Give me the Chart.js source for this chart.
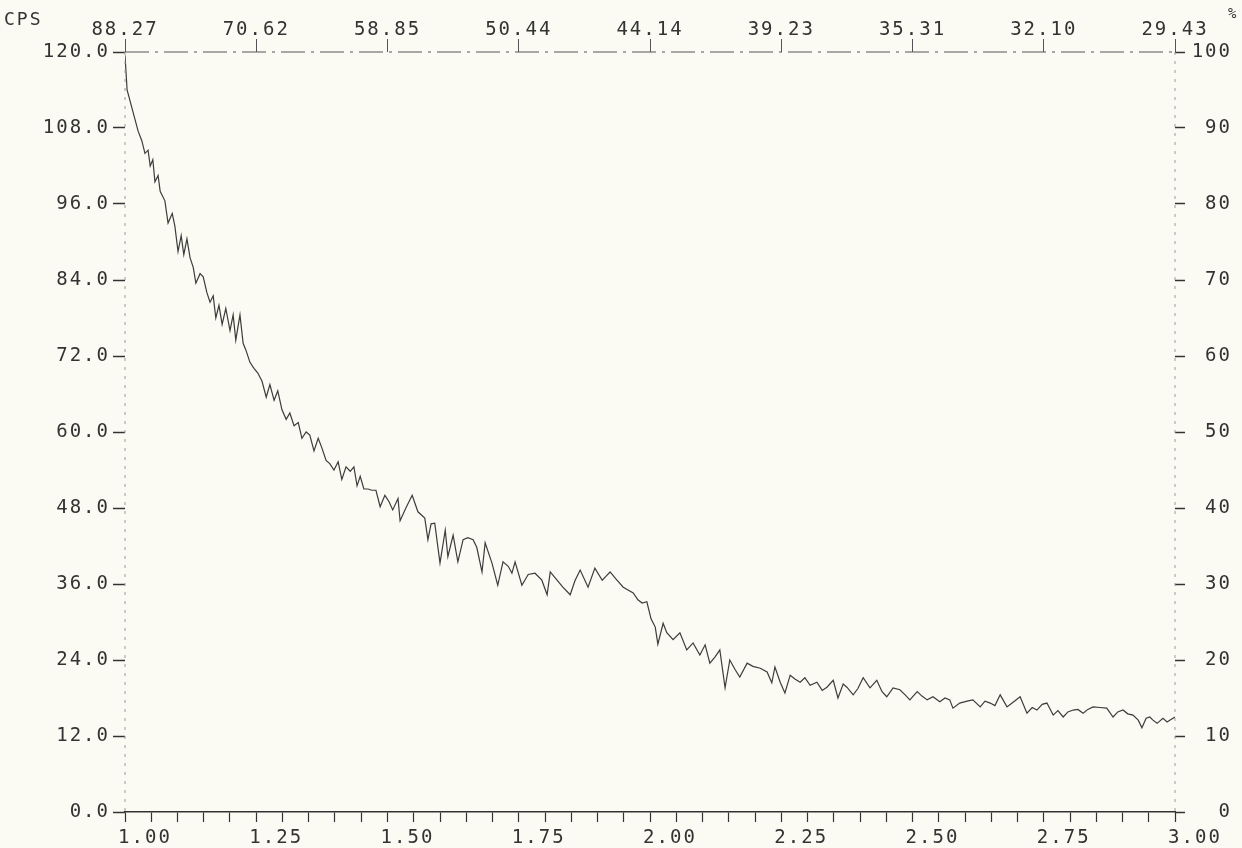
<!DOCTYPE html>
<html>
<head>
<meta charset="utf-8">
<script src="https://cdn.jsdelivr.net/npm/chart.js@4.4.1/dist/chart.umd.min.js"></script>
<style>
    html, body { margin: 0; padding: 0; background: #fbfbf4; }
    #wrap { width: 1242px; height: 848px; }
</style>
</head>
<body>
<div id="wrap"><canvas id="xrdChart" width="1242" height="848"></canvas></div>
<script>
// 2-theta positions (deg) and counts per second
const twoTheta = [
    1.000, 1.004, 1.025, 1.032, 1.038, 1.044, 1.048, 1.053, 1.057, 1.063,
    1.067, 1.076, 1.082, 1.090, 1.095, 1.101, 1.107, 1.112, 1.118, 1.124,
    1.130, 1.135, 1.143, 1.149, 1.156, 1.162, 1.168, 1.173, 1.179, 1.185,
    1.192, 1.200, 1.206, 1.211, 1.219, 1.225, 1.230, 1.238, 1.246, 1.253,
    1.261, 1.269, 1.276, 1.284, 1.291, 1.299, 1.307, 1.314, 1.322, 1.330,
    1.337, 1.345, 1.352, 1.360, 1.368, 1.375, 1.383, 1.390, 1.398, 1.406,
    1.413, 1.421, 1.429, 1.436, 1.442, 1.448, 1.455, 1.463, 1.470, 1.478,
    1.486, 1.495, 1.503, 1.510, 1.520, 1.524, 1.535, 1.547, 1.558, 1.571,
    1.577, 1.583, 1.590, 1.600, 1.610, 1.615, 1.625, 1.634, 1.644, 1.653,
    1.663, 1.670, 1.680, 1.686, 1.699, 1.710, 1.720, 1.730, 1.737, 1.743,
    1.756, 1.768, 1.781, 1.794, 1.804, 1.810, 1.823, 1.834, 1.848, 1.857,
    1.867, 1.882, 1.895, 1.909, 1.916, 1.924, 1.935, 1.949, 1.968, 1.977,
    1.985, 1.994, 2.002, 2.010, 2.015, 2.025, 2.032, 2.044, 2.057, 2.070,
    2.082, 2.095, 2.105, 2.114, 2.124, 2.133, 2.143, 2.152, 2.162, 2.171,
    2.185, 2.196, 2.210, 2.223, 2.232, 2.238, 2.248, 2.257, 2.267, 2.276,
    2.286, 2.295, 2.305, 2.318, 2.328, 2.337, 2.349, 2.358, 2.368, 2.375,
    2.387, 2.396, 2.406, 2.419, 2.432, 2.442, 2.451, 2.463, 2.476, 2.486,
    2.495, 2.509, 2.518, 2.528, 2.539, 2.552, 2.562, 2.571, 2.577, 2.590,
    2.604, 2.615, 2.629, 2.638, 2.648, 2.657, 2.667, 2.680, 2.691, 2.705,
    2.718, 2.728, 2.737, 2.747, 2.756, 2.768, 2.777, 2.787, 2.796, 2.806,
    2.815, 2.825, 2.834, 2.844, 2.857, 2.870, 2.882, 2.891, 2.901, 2.910,
    2.920, 2.930, 2.937, 2.945, 2.952, 2.958, 2.966, 2.977, 2.985, 2.990,
    3.000
];
const cps = [
    119.5, 114.0, 107.5, 106.0, 104.0, 104.5, 102.0, 103.0, 99.5, 100.5,
    98.0, 96.5, 93.0, 94.5, 92.5, 88.5, 91.0, 88.0, 90.5, 87.5,
    86.0, 83.5, 85.0, 84.5, 82.0, 80.5, 81.5, 78.0, 80.0, 77.0,
    79.5, 76.0, 78.5, 74.5, 78.5, 74.0, 73.0, 71.0, 70.0, 69.3,
    68.0, 65.5, 67.5, 65.0, 66.5, 63.5, 62.0, 63.0, 61.0, 61.5,
    59.0, 60.0, 59.5, 57.0, 59.0, 57.5, 55.5, 55.0, 54.0, 55.3,
    52.5, 54.5, 53.8, 54.5, 51.5, 53.0, 51.0, 51.0, 50.8, 50.8,
    48.2, 50.0, 49.0, 47.7, 49.5, 46.0, 48.0, 50.0, 47.4, 46.4,
    43.0, 45.5, 45.6, 39.3, 44.5, 40.3, 43.7, 39.5, 43.0, 43.3,
    43.0, 41.8, 37.9, 42.5, 39.3, 35.8, 39.5, 38.8, 37.7, 39.5,
    35.8, 37.5, 37.7, 36.6, 34.3, 37.9, 36.6, 35.5, 34.3, 36.5,
    38.2, 35.5, 38.5, 36.6, 37.2, 37.9, 36.8, 35.5, 34.6, 33.5,
    33.0, 33.2, 30.5, 29.2, 26.5, 29.8, 28.3, 27.2, 28.3, 25.6,
    26.7, 24.8, 26.4, 23.5, 24.5, 25.6, 19.6, 24.0, 22.5, 21.3,
    23.5, 23.0, 22.7, 22.1, 20.4, 22.9, 20.5, 18.8, 21.6, 21.0,
    20.5, 21.2, 20.0, 20.5, 19.2, 19.7, 20.8, 18.0, 20.2, 19.7,
    18.5, 19.5, 21.2, 19.6, 20.8, 19.0, 18.2, 19.6, 19.3, 18.5,
    17.7, 19.0, 18.3, 17.7, 18.2, 17.4, 18.0, 17.7, 16.4, 17.2,
    17.5, 17.7, 16.6, 17.5, 17.2, 16.8, 18.5, 16.6, 17.3, 18.2,
    15.6, 16.5, 16.1, 17.0, 17.2, 15.3, 16.0, 15.0, 15.8, 16.1,
    16.2, 15.6, 16.2, 16.6, 16.5, 16.4, 15.0, 15.8, 16.1, 15.5,
    15.3, 14.5, 13.3, 14.8, 15.0, 14.5, 14.0, 14.8, 14.2, 14.5,
    15.0
];

// axis labels
const bottomLabels = ['1.00', '1.25', '1.50', '1.75', '2.00', '2.25', '2.50', '2.75', '3.00'];
const topLabels = ['88.27', '70.62', '58.85', '50.44', '44.14', '39.23', '35.31', '32.10', '29.43'];
const cpsMax = 120;
const cpsStep = 12;
const percentMax = 100;
const percentStep = 10;

const inkColor = '#333333';
const tickFont = { family: 'DejaVu Sans Mono', size: 19 };

// plotter-like wide lettering, the dashed frame lines and the corner captions
const plotterText = {
    id: 'plotterText',
    beforeDraw(chart) {
        chart.ctx.letterSpacing = '2px';
    },
    afterDraw(chart) {
        const ctx = chart.ctx;
        const a = chart.chartArea;
        ctx.save();
        ctx.lineWidth = 1.2;

        // top frame: dash-dot
        ctx.strokeStyle = '#555555';
        ctx.setLineDash([24, 6, 3, 6]);
        ctx.beginPath();
        ctx.moveTo(a.left, a.top);
        ctx.lineTo(a.right, a.top);
        ctx.stroke();

        // left and right frames: light dotted
        ctx.strokeStyle = '#9a9a9a';
        ctx.lineWidth = 1;
        ctx.setLineDash([3, 6]);
        ctx.beginPath();
        ctx.moveTo(a.left, a.top);
        ctx.lineTo(a.left, a.bottom);
        ctx.moveTo(a.right, a.top);
        ctx.lineTo(a.right, a.bottom);
        ctx.stroke();
        ctx.setLineDash([]);

        ctx.fillStyle = inkColor;
        ctx.textBaseline = 'middle';
        ctx.textAlign = 'left';
        ctx.font = '18px "DejaVu Sans Mono"';
        ctx.fillText('CPS', 4, 20);
        ctx.font = '14px "DejaVu Sans Mono"';
        ctx.fillText('%', 1228, 14);
        ctx.restore();
    }
};

const points = twoTheta.map((t, i) => ({ x: t, y: cps[i] }));

new Chart(document.getElementById('xrdChart'), {
    type: 'line',
    data: {
        datasets: [{
            label: 'CPS',
            data: points,
            xAxisID: 'x',
            yAxisID: 'y',
            borderColor: '#3c3c3c',
            borderWidth: 1.2,
            pointRadius: 0,
            tension: 0
        }]
    },
    options: {
        responsive: false,
        animation: false,
        layout: { padding: { top: 0, left: 0, right: 10, bottom: 0 } },
        plugins: {
            legend: { display: false },
            tooltip: { enabled: false }
        },
        scales: {
            x: {
                type: 'linear',
                position: 'bottom',
                min: 1,
                max: 3,
                afterFit: s => { s.height = 36; },
                border: { color: inkColor, width: 1.5 },
                grid: { drawOnChartArea: false, tickLength: 10, color: inkColor, tickWidth: 1.2 },
                ticks: {
                    stepSize: 0.05,
                    autoSkip: false,
                    maxTicksLimit: 100,
                    maxRotation: 0,
                    labelOffset: 20,
                    padding: 5,
                    color: inkColor,
                    font: tickFont,
                    callback: value => {
                        const v = Math.round(value * 100) - 100;
                        return v % 25 === 0 ? bottomLabels[v / 25] : '';
                    }
                }
            },
            x2: {
                type: 'linear',
                position: 'top',
                min: 1,
                max: 3,
                afterFit: s => { s.height = 52; },
                border: { display: false },
                grid: { drawOnChartArea: false, tickLength: 13, color: '#555555' },
                ticks: {
                    stepSize: 0.25,
                    autoSkip: false,
                    maxRotation: 0,
                    padding: -2,
                    color: inkColor,
                    font: tickFont,
                    callback: value => topLabels[Math.round((value - 1) * 4)]
                }
            },
            y: {
                type: 'linear',
                position: 'left',
                min: 0,
                max: cpsMax,
                afterFit: s => { s.width = 125; },
                border: { display: false },
                grid: { drawOnChartArea: false, tickLength: 12, color: inkColor, tickWidth: 1.5 },
                ticks: {
                    stepSize: cpsStep,
                    padding: 3,
                    color: inkColor,
                    font: tickFont,
                    callback: value => value.toFixed(1)
                }
            },
            y2: {
                type: 'linear',
                position: 'right',
                min: 0,
                max: percentMax,
                afterFit: s => { s.width = 57; },
                border: { display: false },
                grid: { drawOnChartArea: false, tickLength: 10, color: inkColor, tickWidth: 1.5 },
                ticks: {
                    stepSize: percentStep,
                    crossAlign: 'far',
                    color: inkColor,
                    font: tickFont
                }
            }
        }
    },
    plugins: [plotterText]
});
</script>
</body>
</html>
